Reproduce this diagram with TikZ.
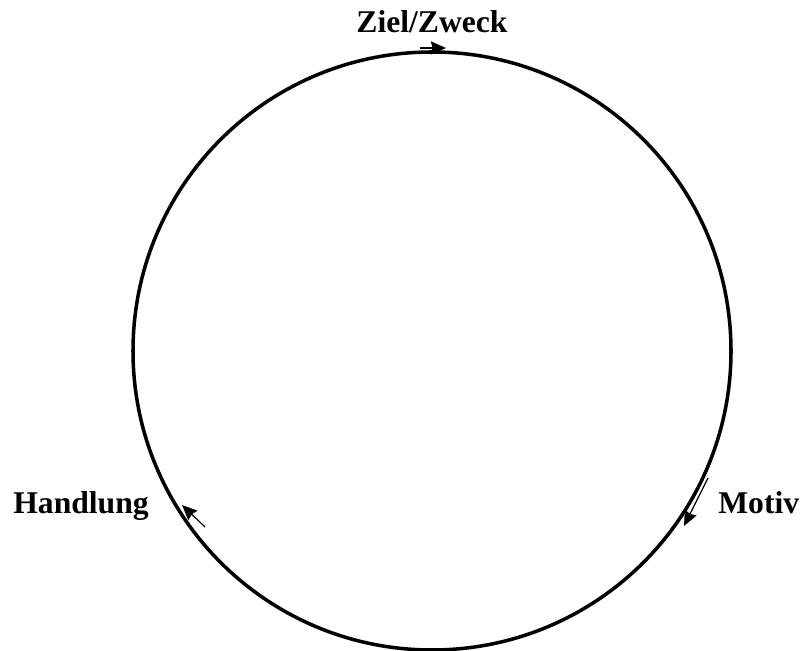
\documentclass[tikz,border=0pt]{standalone}
\usepackage{fontspec}
\setmainfont{Liberation Serif}
\usepackage{tikz}
\usetikzlibrary{arrows.meta}
\tikzset{
  lab/.style={font=\bfseries\fontsize{18}{22}\selectfont, inner sep=0pt},
  pfeil/.style={-{Stealth[length=0.3cm,width=0.26cm,inset=0.03cm]}, line width=0.7pt}
}

\begin{document}
\begin{tikzpicture}
  \useasboundingbox (0,0) rectangle (16.02,13.02);
  \draw[line width=2pt] (8.64,6.0) circle (5.98);
  \node[lab, anchor=base] (ziel) at (8.64,12.36) {Ziel/Zweck};
  \node[lab, anchor=base west] (handlung) at (0.26,2.74) {Handlung};
  \node[lab, anchor=base west] (motiv) at (14.36,2.74) {Motiv};
  % kleine Pfeile am Kreis
  \coordinate (z1) at (8.40,12.06);
  \coordinate (z2) at (8.92,12.06);
  \coordinate (m1) at (14.16,3.46);
  \coordinate (m2) at (13.68,2.50);
  \coordinate (h1) at (4.10,2.48);
  \coordinate (h2) at (3.64,2.92);
  \draw[pfeil] (z1) -- (z2);
  \draw[pfeil] (m1) -- (m2);
  \draw[pfeil] (h1) -- (h2);
\end{tikzpicture}
\end{document}
